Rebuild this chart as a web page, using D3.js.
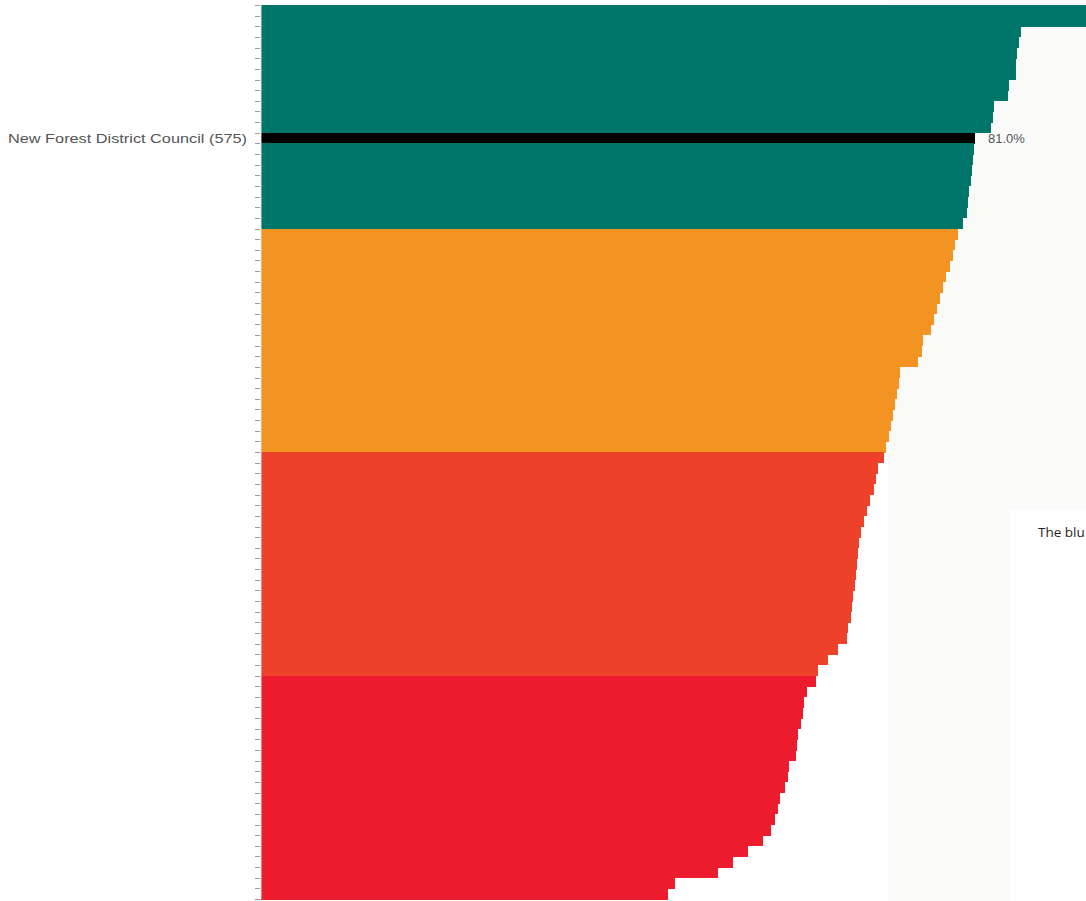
<!DOCTYPE html>
<html>
<head>
<meta charset="utf-8">
<script src="https://cdn.jsdelivr.net/npm/d3@7"></script>
<style>
  body { margin: 0; background: #fff; }
  svg { display: block; }
</style>
</head>
<body>
<svg id="chart" width="1086" height="901"></svg>
<script>
// councils ranked by score, top to bottom; only the highlighted one is labelled
const highlightName = 'New Forest District Council (575)'
const highlightIndex = 12

const scores = [
  100.0, 96.0, 86.2, 86.0, 85.8, 85.7, 85.6, 84.9, 84.7, 83.2, 83.0, 82.8,
  81.0, 80.9, 80.8, 80.7, 80.6, 80.3, 80.2, 80.1, 79.6,
  79.1, 78.7, 78.5, 78.2, 77.7, 77.4, 77.0, 76.7, 76.3, 76.0, 75.1,
  75.0, 74.5, 72.5, 72.4, 72.1, 71.9, 71.7, 71.5, 71.2, 70.9,
  70.7, 70.0, 69.8, 69.5, 69.1, 68.7, 68.4, 68.1, 67.8, 67.7, 67.6,
  67.5, 67.4, 67.2, 67.1, 66.9, 66.6, 66.5, 65.5, 64.3, 63.2,
  63.0, 61.9, 61.6, 61.5, 61.3, 60.9, 60.8, 60.7, 59.9, 59.8, 59.4,
  58.9, 58.6, 58.3, 57.9, 56.9, 55.2, 53.5, 51.8, 47.0, 46.2
]

const quartiles = ['Q1', 'Q2', 'Q3', 'Q4']
const quartileColours = ['#00766a', '#f39322', '#ee412a', '#ec1b2e']

const rows = scores.map((v, i) => ({
  id: i,
  name: i === highlightIndex ? highlightName : '',
  value: v
}))

//

const svg = d3.select('#chart')
const width = 1086
const height = 901
const plotLeft = 261
const plotTop = 5
const plotBottom = 899

// faint photo backdrop on the right side
svg.append('rect')
  .attr('x', 888).attr('y', 0)
  .attr('width', width - 888).attr('height', height)
  .attr('fill', '#fafaf9')

svg.append('rect')
  .attr('x', 1010).attr('y', 510)
  .attr('width', width - 1010).attr('height', height - 510)
  .attr('fill', '#ffffff')

svg.append('text')
  .attr('x', 1038).attr('y', 537)
  .attr('font-family', 'Open Sans, sans-serif')
  .attr('font-size', 13.5)
  .attr('fill', '#252423')
  .text('The blu')

const x = d3.scaleLinear()
  .domain([0, 100])
  .range([plotLeft, plotLeft + 881.5])

const y = d3.scaleBand()
  .domain(rows.map((d) => d.id))
  .range([plotTop, plotBottom])
  .padding(0)

const quart = d3.scaleQuantize()
  .domain([0, rows.length])
  .range(quartiles)

const colour = d3.scaleOrdinal()
  .domain(quartiles)
  .range(quartileColours)

svg.append('g')
  .attr('class', 'bars')
  .selectAll('rect')
  .data(rows)
  .join('rect')
  .attr('x', x(0))
  .attr('y', (d) => y(d.id))
  .attr('width', (d) => x(d.value) - x(0))
  .attr('height', y.bandwidth() + 0.5)
  .attr('fill', (d) => d.id === highlightIndex ? '#000' : colour(quart(d.id)))
  .attr('shape-rendering', 'crispEdges')

// axis: ticks sit on the band boundaries
const edges = rows.map((d) => y(d.id)).concat([plotBottom])
const axis = svg.append('g').attr('class', 'axis')

axis.append('line')
  .attr('x1', plotLeft).attr('x2', plotLeft)
  .attr('y1', plotTop).attr('y2', plotBottom)
  .attr('stroke', '#e0e0e0')

axis.selectAll('line.tick')
  .data(edges)
  .join('line')
  .attr('class', 'tick')
  .attr('x1', plotLeft - 6).attr('x2', plotLeft - 1)
  .attr('y1', (d) => Math.round(d) + 0.5)
  .attr('y2', (d) => Math.round(d) + 0.5)
  .attr('stroke', '#9a9a9a')

const hl = rows[highlightIndex]

svg.append('text')
  .attr('x', 247)
  .attr('y', y(hl.id) + y.bandwidth() / 2)
  .attr('dy', '0.35em')
  .attr('text-anchor', 'end')
  .attr('font-family', 'Liberation Sans, sans-serif')
  .attr('font-size', 13.5)
  .attr('fill', '#555')
  .attr('textLength', 239)
  .attr('lengthAdjust', 'spacingAndGlyphs')
  .text(hl.name)

svg.append('text')
  .attr('x', x(hl.value) + 13)
  .attr('y', y(hl.id) + y.bandwidth() / 2)
  .attr('dy', '0.35em')
  .attr('font-family', 'Liberation Sans, sans-serif')
  .attr('font-size', 13)
  .attr('fill', '#555')
  .text(d3.format('.1f')(hl.value) + '%')
</script>
</body>
</html>
